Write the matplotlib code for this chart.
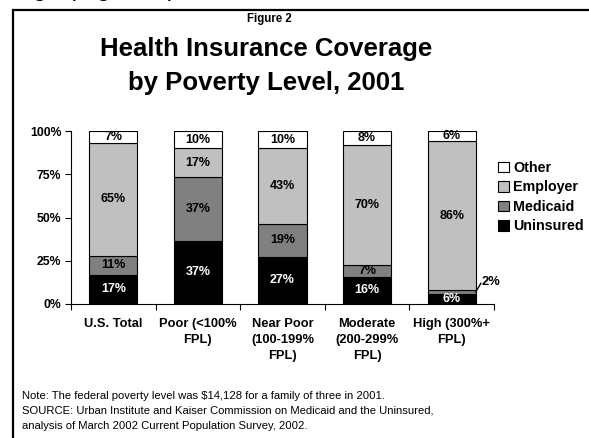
import matplotlib
matplotlib.use("Agg")
import matplotlib.pyplot as plt
from matplotlib.patches import Patch
from matplotlib.lines import Line2D
import numpy as np

plt.rcParams['font.family'] = ['Liberation Sans', 'DejaVu Sans']

categories = ["U.S. Total", "Poor (<100%\nFPL)", "Near Poor\n(100-199%\nFPL)",
              "Moderate\n(200-299%\nFPL)", "High (300%+\nFPL)"]
series_names = ["Uninsured", "Medicaid", "Employer", "Other"]
uninsured = [17, 37, 27, 16, 6]
medicaid = [11, 37, 19, 7, 2]
employer = [65, 17, 43, 70, 86]
other = [7, 10, 10, 8, 6]
yticks = [0, 25, 50, 75, 100]
ytick_labels = ["0%", "25%", "50%", "75%", "100%"]

colors = ["#000000", "#808080", "#C0C0C0", "#FFFFFF"]
text_colors = ["white", "black", "black", "black"]

fig = plt.figure(figsize=(5.89, 4.38), dpi=100)
W, H = 589, 438
ax = fig.add_axes([71 / W, 1 - 304 / H, (494 - 71) / W, (304 - 131) / H])

x = np.arange(len(categories))
series = [np.array(s, dtype=float) for s in [uninsured, medicaid, employer, other]]
totals = np.sum(series, axis=0)   # rounded shares; bars are drawn as 100% stacks
bottoms = np.zeros(len(categories))
for vals, col, tcol, name in zip(series, colors, text_colors, series_names):
    shares = vals / totals * 100
    ax.bar(x, shares, width=0.57, bottom=bottoms, color=col, edgecolor="black",
           linewidth=0.8, label=name)
    for i, v in enumerate(vals):
        label = f"{int(v)}%"
        mid = bottoms[i] + shares[i] / 2
        if name == "Medicaid" and v <= 2:
            # leader line from bar edge to the outside label
            ax.plot([x[i] + 0.285, x[i] + 0.345], [mid, mid + 5],
                    color="black", lw=1.0, clip_on=False, zorder=5)
            ax.text(x[i] + 0.35, mid + 5.5, label, ha="left", va="center",
                    fontsize=9.3, fontweight="bold", color="black")
        else:
            ax.text(x[i], mid, label, ha="center", va="center",
                    fontsize=9, fontweight="bold", color=tcol)
    bottoms += shares

ax.set_xlim(-0.5, len(categories) - 0.5)
ax.set_ylim(0, 100)
ax.set_yticks(yticks)
ax.set_yticklabels(ytick_labels, fontsize=8.8, fontweight="bold")
ax.set_xticks(x)
ax.set_xticklabels(categories, fontsize=9.3, fontweight="bold", linespacing=1.45)
ax.set_xticks(np.arange(-0.5, len(categories)), minor=True)
ax.tick_params(axis="x", which="major", length=0, pad=10)
ax.tick_params(axis="x", which="minor", length=4, width=0.8, direction="out")
ax.tick_params(axis="y", length=4, width=0.8, direction="out", pad=3)
for s in ["top", "right"]:
    ax.spines[s].set_visible(False)
for s in ["left", "bottom"]:
    ax.spines[s].set_linewidth(0.8)

handles = [Patch(facecolor=c, edgecolor="black", linewidth=0.8) for c in colors[::-1]]
ax.legend(handles, series_names[::-1], loc="upper left",
          bbox_to_anchor=(498 / W, 1 - 161 / H), bbox_transform=fig.transFigure,
          frameon=False, prop=dict(size=10.3, weight="bold"), handlelength=0.75,
          handleheight=0.75, handletextpad=0.3, labelspacing=0.38, borderpad=0,
          borderaxespad=0)

# Titles
cx = 266 / W
fig.text(cx + 3 / W, 1 - 19 / H, "Figure 2", ha="center", va="center",
         fontsize=8.3, fontweight="bold")
fig.text(cx, 1 - 49 / H, "Health Insurance Coverage", ha="center",
         va="center", fontsize=18.5, fontweight="bold")
fig.text(cx, 1 - 83 / H, "by Poverty Level, 2001", ha="center",
         va="center", fontsize=18.5, fontweight="bold")

# Notes
notes = ("Note: The federal poverty level was $14,128 for a family of three in 2001.\n"
         "SOURCE: Urban Institute and Kaiser Commission on Medicaid and the Uninsured,\n"
         "analysis of March 2002 Current Population Survey, 2002.")
fig.text(22 / W, 1 - 391 / H, notes, ha="left", va="top", fontsize=8.1,
         linespacing=1.6)

# Clipped page text at very top (only descenders show in the reference)
fig.text(33 / W, 1 + 4 / H, "ge (Figure 2)", ha="left", va="baseline", fontsize=18)

# Frame border
fig.add_artist(Line2D([13 / W, 13 / W, 1.0], [0, 1 - 9.5 / H, 1 - 9.5 / H],
                      transform=fig.transFigure, color="black", lw=1.6,
                      solid_joinstyle="miter"))

fig.savefig("out.png", dpi=100)
